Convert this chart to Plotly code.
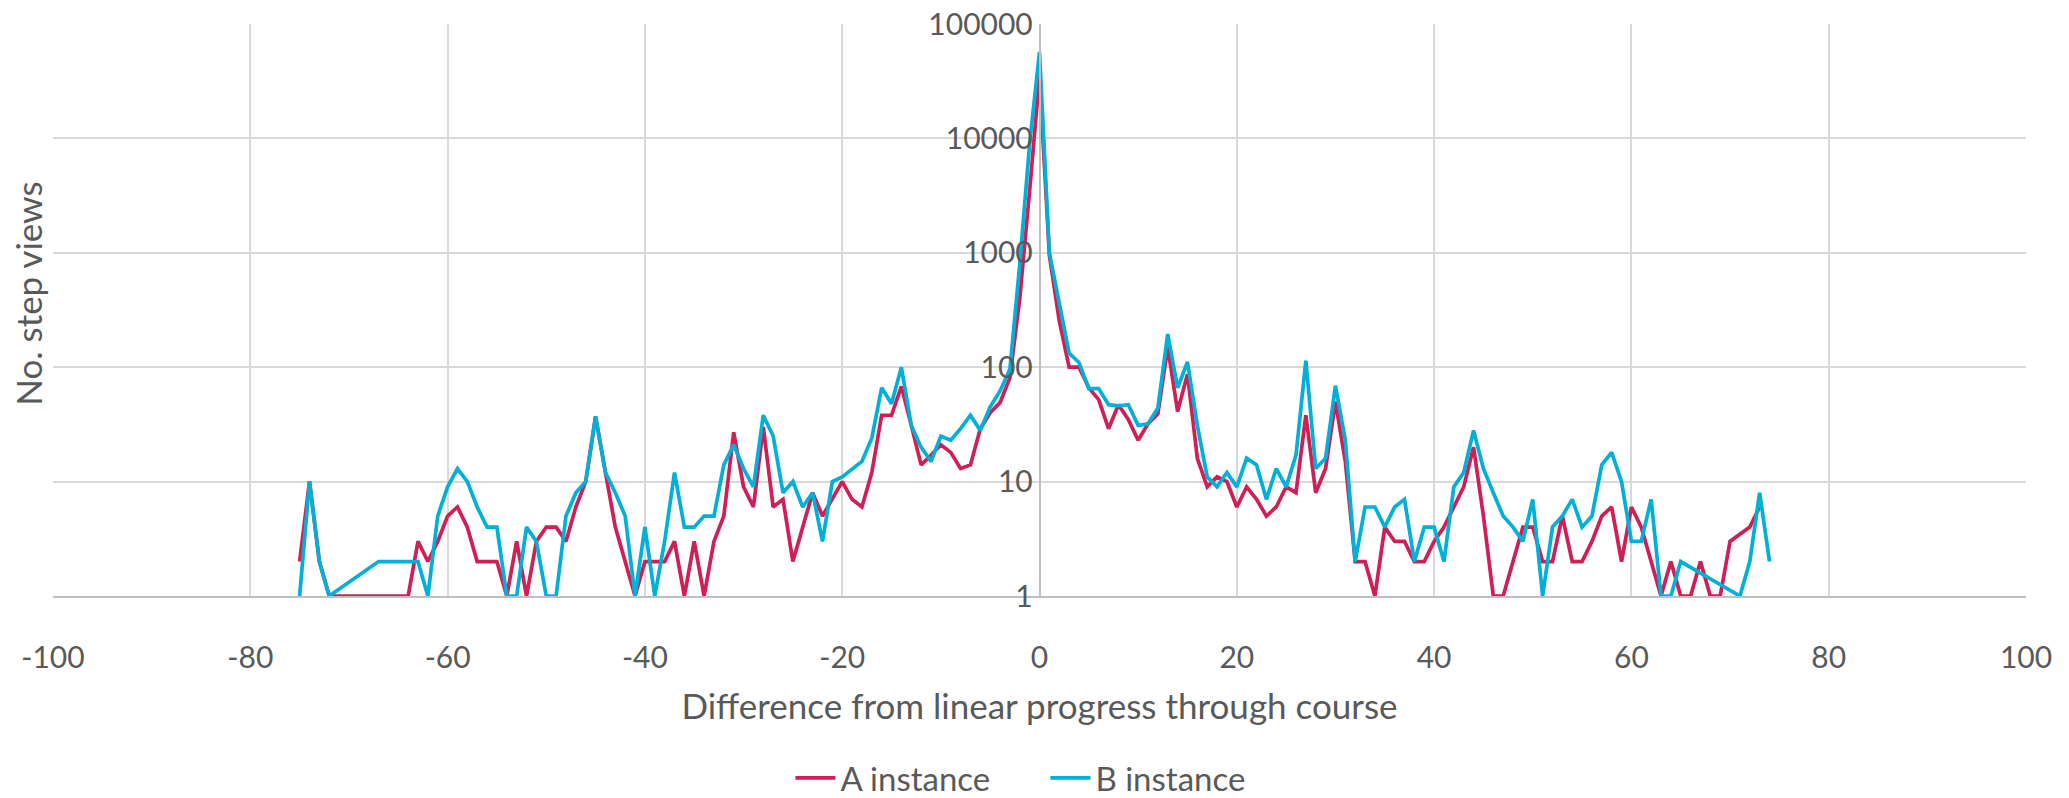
import plotly.graph_objects as go

# Step-view counts by difference from linear progress (log scale)
a_x = [-75, -74, -73, -72, -71, -70, -69, -68, -67, -66, -65, -64, -63, -62, -61, -60,
       -59, -58, -57, -56, -55, -54, -53, -52, -51, -50, -49, -48, -47, -46, -45, -44,
       -43, -42, -41, -40, -39, -38, -37, -36, -35, -34, -33, -32, -31, -30, -29, -28,
       -27, -26, -25, -24, -23, -22, -21, -20, -19, -18, -17, -16, -15, -14, -13, -12,
       -11, -10, -9, -8, -7, -6, -5, -4, -3, -2, -1, 0, 1, 2, 3, 4, 5, 6, 7, 8, 9, 10,
       11, 12, 13, 14, 15, 16, 17, 18, 19, 20, 21, 22, 23, 24, 25, 26, 27, 28, 29, 30,
       31, 32, 33, 34, 35, 36, 37, 38, 39, 40, 41, 42, 43, 44, 45, 46, 47, 48, 49, 50,
       51, 52, 53, 54, 55, 56, 57, 58, 59, 60, 61, 62, 63, 64, 65, 66, 67, 68, 69, 70,
       72, 73]
a_views = [2, 10, 2, 1, 1, 1, 1, 1, 1, 1, 1, 1, 3, 2, 3, 5,
           6, 4, 2, 2, 2, 1, 3, 1, 3, 4, 4, 3, 6, 10, 37, 12,
           4, 2, 1, 2, 2, 2, 3, 1, 3, 1, 3, 5, 27, 9, 6, 30,
           6, 7, 2, 4, 8, 5, 7, 10, 7, 6, 12, 38, 38, 68, 31, 14,
           17, 21, 18, 13, 14, 29, 40, 49, 81, 400, 3500, 35000, 950, 255, 100, 100, 66, 52, 29, 47, 35, 23,
           32, 39, 150, 41, 87, 16, 9, 11, 10, 6, 9, 7, 5, 6, 9, 8, 38, 8, 13, 50,
           15, 2, 2, 1, 4, 3, 3, 2, 2, 3, 4, 6, 9, 20, 5, 1, 1, 2, 4, 4,
           2, 2, 5, 2, 2, 3, 5, 6, 2, 6, 4, 2, 1, 2, 1, 1, 2, 1, 1, 3,
           4, 6]

b_x = [-75, -74, -73, -72, -67, -66, -65, -64, -63, -62, -61, -60, -59, -58, -57, -56,
       -55, -54, -53, -52, -51, -50, -49, -48, -47, -46, -45, -44, -43, -42, -41, -40,
       -39, -38, -37, -36, -35, -34, -33, -32, -31, -30, -29, -28, -27, -26, -25, -24,
       -23, -22, -21, -20, -19, -18, -17, -16, -15, -14, -13, -12, -11, -10, -9, -8,
       -7, -6, -5, -4, -3, -2, -1, 0, 1, 2, 3, 4, 5, 6, 7, 8, 9, 10, 11, 12, 13, 14,
       15, 16, 17, 18, 19, 20, 21, 22, 23, 24, 25, 26, 27, 28, 29, 30, 31, 32, 33, 34,
       35, 36, 37, 38, 39, 40, 41, 42, 43, 44, 45, 46, 47, 48, 49, 50, 51, 52, 53, 54,
       55, 56, 57, 58, 59, 60, 61, 62, 63, 64, 65, 71, 72, 73, 74]
b_views = [1, 10, 2, 1, 2, 2, 2, 2, 2, 1, 5, 9, 13, 10, 6, 4,
           4, 1, 1, 4, 3, 1, 1, 5, 8, 10, 37, 12, 8, 5, 1, 4,
           1, 3, 12, 4, 4, 5, 5, 14, 21, 13, 9, 38, 25, 8, 10, 6,
           8, 3, 10, 11, 13, 15, 24, 66, 48, 100, 31, 20, 15, 25, 23, 29,
           38, 28, 45, 62, 96, 800, 9000, 57000, 1000, 350, 133, 110, 65, 65, 47, 46, 47, 31, 32, 44, 195, 66,
           111, 31, 11, 9, 12, 9, 16, 14, 7, 13, 9, 17, 114, 13, 16, 69, 23, 2, 6, 6,
           4, 6, 7, 2, 4, 4, 2, 9, 12, 28, 13, 8, 5, 4, 3, 7, 1, 4, 5, 7,
           4, 5, 14, 18, 10, 3, 3, 7, 1, 1, 2, 1, 2, 8, 2]

x_ticks = [-100, -80, -60, -40, -20, 0, 20, 40, 60, 80, 100]
x_tick_text = ["-100", "-80", "-60", "-40", "-20", "0", "20", "40", "60", "80", "100"]
y_ticks = [1, 10, 100, 1000, 10000, 100000]
y_tick_text = ["1", "10", "100", "1000", "10000", "100000"]

FONT = "Lato"
TEXT = "#595959"
GRID = "#D9D9D9"

fig = go.Figure()
fig.add_trace(go.Scatter(x=a_x, y=a_views, mode="lines", name="A instance",
                         line=dict(color="#D01F54", width=3.7)))
fig.add_trace(go.Scatter(x=b_x, y=b_views, mode="lines", name="B instance",
                         line=dict(color="#00B0D8", width=3.7)))

fig.update_layout(
    width=2069, height=798,
    margin=dict(l=53, r=43, t=24, b=202, autoexpand=False),
    paper_bgcolor="white", plot_bgcolor="white",
    font=dict(family=FONT, size=30, color=TEXT),
    showlegend=True,
    legend=dict(orientation="h", x=0.503, xanchor="center", y=-0.318, yanchor="middle",
                font=dict(size=33, color=TEXT), itemwidth=40,
                entrywidth=200, entrywidthmode="pixels"),
    xaxis=dict(
        range=[-100, 100], tickvals=x_ticks, ticktext=x_tick_text, domain=[0, 1],
        showgrid=True, gridcolor=GRID, gridwidth=1.5, automargin=False,
        zeroline=False, showline=True, linecolor="#BFBFBF", linewidth=1.5,
        ticks="", ticklabelstandoff=34,
        tickfont=dict(size=30, color=TEXT),
        title=dict(text="Difference from linear progress through course",
                   font=dict(size=35, color=TEXT), standoff=22),
    ),
    yaxis=dict(
        type="log", range=[0, 5],
        tickvals=y_ticks, ticktext=y_tick_text,
        anchor="free", position=0.5, side="left", automargin=False,
        showgrid=True, gridcolor=GRID, gridwidth=1.5,
        zeroline=False, showline=True, linecolor="#BFBFBF", linewidth=1.5,
        ticks="", tickfont=dict(size=30, color=TEXT),
    ),
    annotations=[dict(text="No. step views", xref="paper", yref="paper",
                      x=-0.0128, y=0.528, xanchor="center", yanchor="middle",
                      textangle=-90, showarrow=False,
                      font=dict(size=35, color=TEXT, family=FONT))],
)

fig.write_html("out.html")
